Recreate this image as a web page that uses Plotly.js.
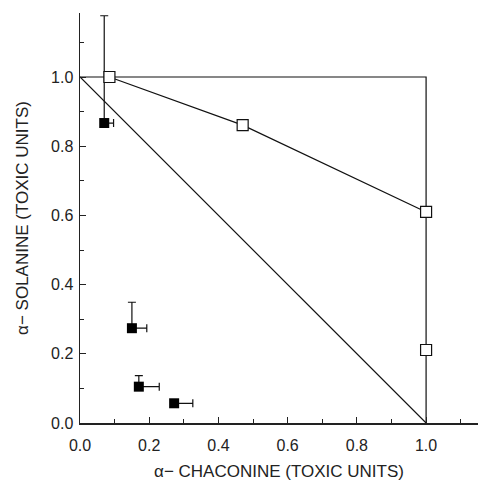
<!DOCTYPE html>
<html>
<head>
<meta charset="utf-8">
<script src="https://cdn.plot.ly/plotly-3.0.1.min.js"></script>
<style>html,body{margin:0;padding:0;background:#fff;}</style>
</head>
<body>
<div id="chart" style="width:481px;height:481px;"></div>
<script>
// Reference lines (isobologram)
const boxX = [0, 1, 1];
const boxY = [1, 1, 0];
const additiveX = [0, 1];
const additiveY = [1, 0];

// Open squares connected by a line
const openX = [0.085, 0.47, 1.0];
const openY = [1.0, 0.861, 0.61];
// Isolated open square
const openSingleX = [1.0];
const openSingleY = [0.211];

// Filled squares with one-sided error bars
const filledX = [0.07, 0.15, 0.17, 0.272];
const filledY = [0.867, 0.274, 0.105, 0.057];
const filledErrY = [0.31, 0.075, 0.032, 0];
const filledErrX = [0.027, 0.043, 0.059, 0.054];
const zeros = [0, 0, 0, 0];

const traces = [
  {x: boxX, y: boxY, mode: 'lines', line: {color: '#111', width: 1.2}, hoverinfo: 'skip'},
  {x: additiveX, y: additiveY, mode: 'lines', line: {color: '#111', width: 1.2}, hoverinfo: 'skip'},
  {x: filledX, y: filledY, mode: 'markers',
   marker: {symbol: 'square', size: 10, color: '#000'},
   error_y: {type: 'data', symmetric: false, array: filledErrY, arrayminus: zeros, color: '#111', thickness: 1.2, width: 4},
   error_x: {type: 'data', symmetric: false, array: filledErrX, arrayminus: zeros, color: '#111', thickness: 1.2, width: 4}},
  {x: openX, y: openY, mode: 'lines+markers', line: {color: '#111', width: 1.2},
   marker: {symbol: 'square', size: 11, color: '#fff', line: {color: '#111', width: 1.2}}},
  {x: openSingleX, y: openSingleY, mode: 'markers',
   marker: {symbol: 'square', size: 11, color: '#fff', line: {color: '#111', width: 1.2}}}
];

const tickFont = {family: 'Liberation Sans, Arial, sans-serif', size: 16, color: '#222'};
const titleFont = {family: 'Liberation Sans, Arial, sans-serif', size: 17, color: '#222'};

const layout = {
  width: 481, height: 481,
  margin: {l: 80, r: 3, t: 13, b: 58},
  paper_bgcolor: '#fff', plot_bgcolor: '#fff',
  showlegend: false,
  font: tickFont,
  xaxis: {
    range: [0, 1.15], tickvals: [0, 0.2, 0.4, 0.6, 0.8, 1.0], ticktext: ['0.0','0.2','0.4','0.6','0.8','1.0'],
    tickfont: tickFont, ticklabelstandoff: 7,
    ticks: 'inside', ticklen: 6, tickcolor: '#222', tickwidth: 1,
    minor: {dtick: 0.1, tick0: 0, ticks: 'inside', ticklen: 4, tickcolor: '#222'},
    showline: true, linecolor: '#222', linewidth: 1.5, showgrid: false, zeroline: false,
    title: {text: 'α− CHACONINE (TOXIC UNITS)', font: titleFont, standoff: 17}
  },
  yaxis: {
    range: [0, 1.185], tickvals: [0, 0.2, 0.4, 0.6, 0.8, 1.0], ticktext: ['0.0','0.2','0.4','0.6','0.8','1.0'],
    tickfont: tickFont, ticklabelstandoff: 2,
    ticks: 'inside', ticklen: 6, tickcolor: '#222', tickwidth: 1,
    minor: {dtick: 0.1, tick0: 0, ticks: 'inside', ticklen: 4, tickcolor: '#222'},
    showline: true, linecolor: '#222', linewidth: 1.5, showgrid: false, zeroline: false,
    title: {text: 'α− SOLANINE (TOXIC UNITS)', font: titleFont, standoff: 18}
  }
};

Plotly.newPlot('chart', traces, layout, {staticPlot: true, displayModeBar: false});
</script>
</body>
</html>
